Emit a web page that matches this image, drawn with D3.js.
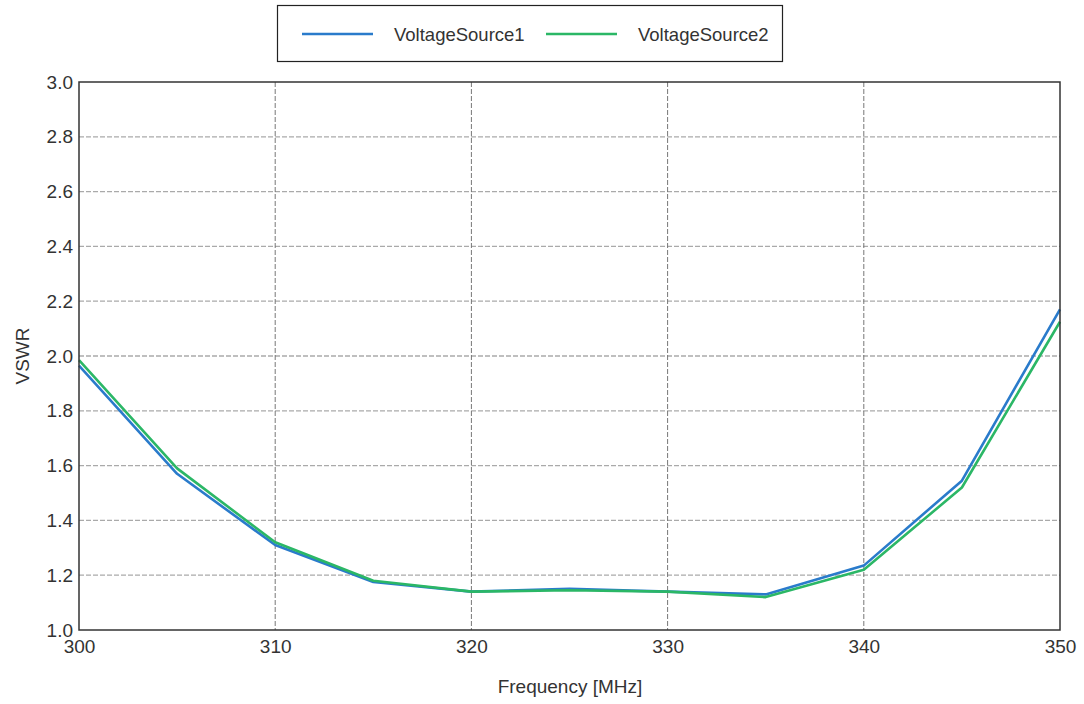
<!DOCTYPE html>
<html><head><meta charset="utf-8">
<script src="https://cdn.jsdelivr.net/npm/d3@7"></script>
<style>body{margin:0;background:#fff}text{font-family:"Liberation Sans",Arial,sans-serif;fill:#333}</style>
</head><body><svg id="c" width="1084" height="704"></svg>
<script>
const freqs = [300,305,310,315,320,325,330,335,340,345,350];
const vs1 = [1.965,1.57,1.31,1.175,1.14,1.15,1.14,1.13,1.235,1.545,2.17];
const vs2 = [1.985,1.59,1.32,1.18,1.14,1.145,1.14,1.12,1.22,1.52,2.125];
const seriesNames = ["VoltageSource1","VoltageSource2"];
const colors = ["#2a7bcb","#2bb766"];
const xTicks = [300,310,320,330,340,350];
const yTicks = [1.0,1.2,1.4,1.6,1.8,2.0,2.2,2.4,2.6,2.8,3.0];

const svg = d3.select("#c");
const L=79,R=1060,T=82,B=630;
const FS = "19px";
const x = d3.scaleLinear().domain([300,350]).range([L,R]);
const y = d3.scaleLinear().domain([1,3]).range([B,T]);

// grid
svg.append("g").selectAll("line").data(yTicks.slice(1,-1)).join("line")
  .attr("x1",L).attr("x2",R).attr("y1",d=>y(d)).attr("y2",d=>y(d))
  .attr("stroke","#aaa").attr("stroke-width",1.3).attr("stroke-dasharray","5,2");
svg.append("g").selectAll("line").data(xTicks.slice(1,-1)).join("line")
  .attr("y1",T).attr("y2",B).attr("x1",d=>x(d)).attr("x2",d=>x(d))
  .attr("stroke","#777").attr("stroke-width",1).attr("stroke-dasharray","5,2");

// lines
const line = d3.line().x((d,i)=>x(freqs[i])).y(d=>y(d));
[vs1,vs2].forEach((s,k)=>{
  svg.append("path").datum(s).attr("d",line).attr("fill","none")
    .attr("stroke",colors[k]).attr("stroke-width",2.6).attr("stroke-linejoin","round");
});

// frame
svg.append("rect").attr("x",L).attr("y",T).attr("width",R-L).attr("height",B-T)
  .attr("fill","none").attr("stroke","#333").attr("stroke-width",1.5);

// axes labels
const xa = d3.axisBottom(x).tickValues(xTicks).tickSize(0).tickPadding(10).tickFormat(d3.format("d"));
const gx = svg.append("g").attr("transform",`translate(0,${B})`).call(xa);
gx.select(".domain").remove();
gx.selectAll("text").style("font-size",FS).attr("fill","#333").attr("font-family","Liberation Sans, Arial, sans-serif");
const ya = d3.axisLeft(y).tickValues(yTicks).tickSize(0).tickPadding(6).tickFormat(d3.format(".1f"));
const gy = svg.append("g").attr("transform",`translate(${L},0)`).call(ya);
gy.select(".domain").remove();
gy.selectAll("text").style("font-size",FS).attr("fill","#333").attr("font-family","Liberation Sans, Arial, sans-serif");

svg.append("text").attr("x",570).attr("y",693).attr("text-anchor","middle")
  .style("font-size",FS).text("Frequency [MHz]");
svg.append("text").attr("transform",`translate(29,${(T+B)/2}) rotate(-90)`).attr("text-anchor","middle")
  .style("font-size",FS).text("VSWR");

// legend
svg.append("rect").attr("x",277.5).attr("y",5.5).attr("width",505).attr("height",56)
  .attr("fill","#fff").attr("stroke","#222").attr("stroke-width",1.2);
const lg = [{x1:302,tx:394},{x1:546,tx:638}];
seriesNames.forEach((n,k)=>{
  svg.append("line").attr("x1",lg[k].x1).attr("x2",lg[k].x1+71).attr("y1",34).attr("y2",34)
    .attr("stroke",colors[k]).attr("stroke-width",2.6);
  svg.append("text").attr("x",lg[k].tx).attr("y",41).style("font-size","18.5px").text(n);
});
</script></body></html>
